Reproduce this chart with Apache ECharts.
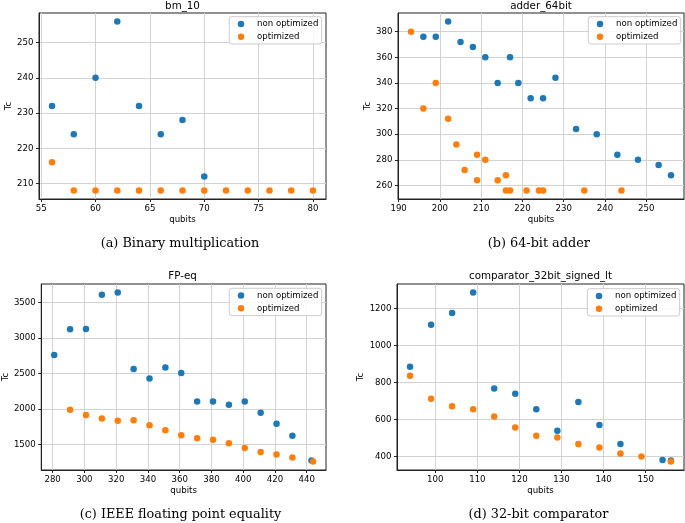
<!DOCTYPE html>
<html><head><meta charset="utf-8">
<script src="https://cdn.jsdelivr.net/npm/echarts@6/dist/echarts.min.js"></script>
<style>html,body{margin:0;padding:0;background:#fff}#c{width:685px;height:523px}</style>
</head><body><div id="c"></div><script>
// ---- data ----
// (a) bm_10
const bmQubitsNon = [56, 58, 60, 62, 64, 66, 68, 70];
const bmTcNon     = [232, 224, 240, 256, 232, 224, 228, 212];
const bmQubitsOpt = [56, 58, 60, 62, 64, 66, 68, 70, 72, 74, 76, 78, 80];
const bmTcOpt     = [216, 208, 208, 208, 208, 208, 208, 208, 208, 208, 208, 208, 208];
const bmXTicks = [55, 60, 65, 70, 75, 80];
const bmYTicks = [210, 220, 230, 240, 250];
// (b) adder_64bit
const adQubitsNon = [196, 199, 202, 205, 208, 211, 214, 217, 219, 222, 225, 228, 233, 238, 243, 248, 253, 256];
const adTcNon     = [376, 376, 388, 372, 368, 360, 340, 360, 340, 328, 328, 344, 304, 300, 284, 280, 276, 268];
const adQubitsOpt = [193, 196, 199, 202, 204, 206, 209, 209, 211, 214, 216, 216, 217, 221, 224, 225, 235, 244];
const adTcOpt     = [380, 320, 340, 312, 292, 272, 284, 264, 280, 264, 268, 256, 256, 256, 256, 256, 256, 256];
const adXTicks = [190, 200, 210, 220, 230, 240, 250];
const adYTicks = [260, 280, 300, 320, 340, 360, 380];
// (c) FP-eq
const fpQubitsNon = [281, 291, 301, 311, 321, 331, 341, 351, 361, 371, 381, 391, 401, 411, 421, 431, 443];
const fpTcNon     = [2762, 3121, 3125, 3607, 3640, 2565, 2430, 2584, 2509, 2107, 2107, 2060, 2107, 1949, 1794, 1626, 1276];
const fpQubitsOpt = [291, 301, 311, 321, 331, 341, 351, 361, 371, 381, 391, 401, 411, 421, 431, 444];
const fpTcOpt     = [1991, 1916, 1869, 1836, 1841, 1771, 1701, 1631, 1589, 1570, 1519, 1453, 1397, 1360, 1318, 1262];
const fpXTicks = [280, 300, 320, 340, 360, 380, 400, 420, 440];
const fpYTicks = [1500, 2000, 2500, 3000, 3500];
// (d) comparator_32bit_signed_lt
const cmQubitsNon = [94, 99, 104, 109, 114, 119, 124, 129, 134, 139, 144, 154, 156];
const cmTcNon     = [885, 1112, 1175, 1286, 768, 739, 656, 539, 695, 571, 468, 382, 378];
const cmQubitsOpt = [94, 99, 104, 109, 114, 119, 124, 129, 134, 139, 144, 149, 156];
const cmTcOpt     = [836, 712, 672, 656, 616, 557, 512, 503, 468, 449, 416, 400, 373];
const cmXTicks = [100, 110, 120, 130, 140, 150];
const cmYTicks = [400, 600, 800, 1000, 1200];

const titles   = ['bm_10', 'adder_64bit', 'FP-eq', 'comparator_32bit_signed_lt'];
const captions = ['(a) Binary multiplication', '(b) 64-bit adder', '(c) IEEE floating point equality', '(d) 32-bit comparator'];
const seriesNames = ['non optimized', 'optimized'];

// ---- layout / style ----
const SANS = 'DejaVu Sans';
const BLUE = '#1f77b4', ORANGE = '#ff7f0e';
const panels = [
  {qn: bmQubitsNon, tn: bmTcNon, qo: bmQubitsOpt, to: bmTcOpt, xt: bmXTicks, yt: bmYTicks,
   grid: {left: 39, top: 13, width: 287, height: 186}, xr: [54.8, 81.2], yr: [205.6, 258.4],
   tx: 182.5, ty: 1, cx: 180, cy: 237, lg: {left: 229.3, top: 16.7}, yGap: 23.5},
  {qn: adQubitsNon, tn: adTcNon, qo: adQubitsOpt, to: adTcOpt, xt: adXTicks, yt: adYTicks,
   grid: {left: 398, top: 13, width: 286, height: 186}, xr: [189.85, 259.15], yr: [249.4, 394.6],
   tx: 541, ty: 1, cx: 538.8, cy: 237, lg: {left: 588.3, top: 16.7}, yGap: 24},
  {qn: fpQubitsNon, tn: fpTcNon, qo: fpQubitsOpt, to: fpTcOpt, xt: fpXTicks, yt: fpYTicks,
   grid: {left: 39, top: 284, width: 287, height: 186}, xr: [272.85, 452.15], yr: [1143, 3759],
   tx: 182.5, ty: 271, cx: 180.5, cy: 508, lg: {left: 229.3, top: 288.3}, yGap: 31},
  {qn: cmQubitsNon, tn: cmTcNon, qo: cmQubitsOpt, to: cmTcOpt, xt: cmXTicks, yt: cmYTicks,
   grid: {left: 397, top: 284, width: 287, height: 186}, xr: [90.9, 159.1], yr: [327.35, 1331.65],
   tx: 540.5, ty: 271, cx: 538.5, cy: 508, lg: {left: 587.3, top: 288.7}, yGap: 31}
];

const zip = (a, b) => a.map((v, i) => [v, b[i]]);
const axisCommon = (ticks) => ({
  type: 'value',
  axisLine: {show: true, onZero: false, lineStyle: {color: '#222', width: 1}},
  axisTick: {show: true, length: 3, customValues: ticks, lineStyle: {color: '#222', width: 1}},
  axisLabel: {customValues: ticks, fontSize: 8.6, fontFamily: SANS, color: '#000', formatter: (v) => String(v)},
  splitLine: {show: true, lineStyle: {color: '#d2d2d2', width: 1}},
  nameTextStyle: {fontSize: 8.6, fontFamily: SANS, color: '#000'},
  nameLocation: 'middle'
});

const option = {
  animation: false,
  backgroundColor: '#fff',
  title: [], grid: [], xAxis: [], yAxis: [], series: [], legend: []
};

panels.forEach((p, i) => {
  option.grid.push(Object.assign({show: true, borderColor: '#222', borderWidth: 1, backgroundColor: 'transparent'}, p.grid));
  const xa = axisCommon(p.xt);
  Object.assign(xa, {gridIndex: i, min: p.xr[0], max: p.xr[1], name: 'qubits', nameGap: 16.5});
  xa.axisLabel.margin = 5;
  option.xAxis.push(xa);
  const ya = axisCommon(p.yt);
  Object.assign(ya, {gridIndex: i, min: p.yr[0], max: p.yr[1], name: 'Tc', nameGap: p.yGap, nameRotate: 90});
  ya.axisLabel.margin = 5.5;
  option.yAxis.push(ya);
  option.series.push({
    type: 'scatter', name: seriesNames[0], xAxisIndex: i, yAxisIndex: i, symbolSize: 6.5,
    itemStyle: {color: BLUE, opacity: 1}, data: zip(p.qn, p.tn), clip: false
  });
  option.series.push({
    type: 'scatter', name: seriesNames[1], xAxisIndex: i, yAxisIndex: i, symbolSize: 6.5,
    itemStyle: {color: ORANGE, opacity: 1}, data: zip(p.qo, p.to), clip: false
  });
  option.title.push({
    text: titles[i], left: p.tx, top: p.ty, textAlign: 'center', padding: 0,
    textStyle: {fontSize: 10.3, fontWeight: 'normal', fontFamily: SANS, color: '#000'}
  });
  option.title.push({
    text: captions[i], left: p.cx, top: p.cy, textAlign: 'center', padding: 0,
    textStyle: {fontSize: 12.8, fontWeight: 'normal', fontFamily: 'DejaVu Serif', color: '#000'}
  });
  option.legend.push({
    left: p.lg.left, top: p.lg.top, orient: 'vertical', data: seriesNames, icon: 'circle',
    itemWidth: 6.5, itemHeight: 6.5, itemGap: 2.7, padding: [2.3, 3.3, 2.3, 8.45],
    backgroundColor: 'rgba(255,255,255,0.85)', borderColor: '#cccccc', borderWidth: 1, borderRadius: 2.5,
    selectedMode: false,
    textStyle: {fontSize: 8.6, fontFamily: SANS, color: '#000', lineHeight: 10, padding: [0, 0, 0, 7.75]}
  });
});

const chart = echarts.init(document.getElementById('c'), null, {renderer: 'canvas'});
chart.setOption(option);
</script></body></html>
